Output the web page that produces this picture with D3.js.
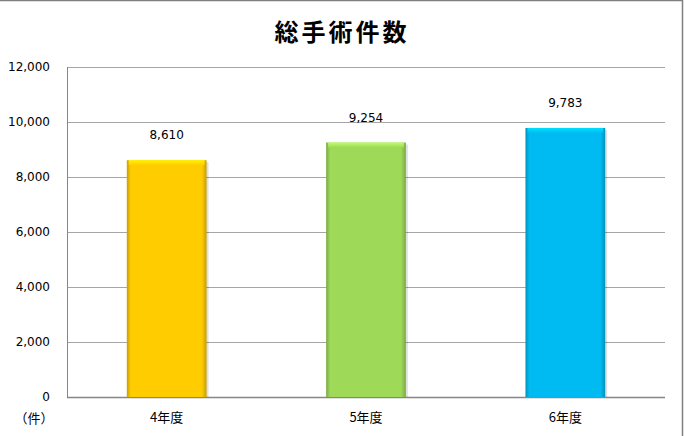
<!DOCTYPE html>
<html><head><meta charset="utf-8">
<script src="https://cdn.jsdelivr.net/npm/d3@7"></script>
<style>html,body{margin:0;padding:0;background:#fff;}svg{display:block;}</style>
</head><body>
<svg id="c" width="684" height="436"></svg>
<script>
const title = "総手術件数";
const categories = ["4年度", "5年度", "6年度"];
const values = [8610, 9254, 9783];
const colors = ["#FFCC00", "#9ED958", "#00BBF2"];
const yTicks = [0, 2000, 4000, 6000, 8000, 10000, 12000];
const unitLabel = "（件）";

const svg = d3.select("#c");
const m = {left: 67, right: 665, top: 67, bottom: 397};

// frame
svg.append("line").attr("x1",0).attr("x2",683).attr("y1",0.5).attr("y2",0.5).attr("stroke","#7f7f7f").attr("stroke-width",1.5);
svg.append("line").attr("x1",682.5).attr("x2",682.5).attr("y1",0).attr("y2",436).attr("stroke","#7f7f7f").attr("stroke-width",1.5);

const x = d3.scaleBand().domain(categories).range([m.left, m.right]).paddingInner(0.6).paddingOuter(0.3);
const y = d3.scaleLinear().domain([0, 12000]).range([m.bottom, m.top]);

svg.append("text").attr("x", 342).attr("y", 41).attr("text-anchor","middle")
  .attr("font-family","'Noto Sans CJK JP'").attr("font-weight","bold").attr("font-size",24)
  .attr("letter-spacing", 3).attr("fill","#000").text(title);

// gridlines
const yAxis = d3.axisLeft(y).tickValues(yTicks).tickSize(-(m.right - m.left)).tickPadding(17)
  .tickFormat(d3.format(","));
const gy = svg.append("g").attr("transform", `translate(${m.left},0)`).call(yAxis);
gy.select(".domain").remove();
gy.selectAll(".tick line").attr("stroke","#a6a6a6").attr("stroke-width",1);
gy.selectAll(".tick text").attr("font-family","'DejaVu Sans', Verdana, sans-serif").attr("font-size",12).attr("fill","#000");

// axes lines
svg.append("line").attr("x1",m.left+0.5).attr("x2",m.left+0.5).attr("y1",m.top).attr("y2",m.bottom).attr("stroke","#868686");
svg.append("line").attr("x1",m.left).attr("x2",m.right).attr("y1",m.bottom+0.5).attr("y2",m.bottom+0.5).attr("stroke","#868686").attr("stroke-width",1.5);

// gradients
const defs = svg.append("defs");
colors.forEach((c, i) => {
  const dk = d3.color(c).darker(0.7), lt = d3.color(c).brighter(0.5);
  const g = defs.append("linearGradient").attr("id","h"+i).attr("x1","0").attr("x2","1").attr("y1","0").attr("y2","0");
  g.append("stop").attr("offset","0").attr("stop-color", dk);
  g.append("stop").attr("offset","0.05").attr("stop-color", c);
  g.append("stop").attr("offset","0.94").attr("stop-color", c);
  g.append("stop").attr("offset","1").attr("stop-color", dk);
  const v = defs.append("linearGradient").attr("id","v"+i).attr("x1","0").attr("x2","0").attr("y1","0").attr("y2","1");
  v.append("stop").attr("offset","0").attr("stop-color", lt);
  v.append("stop").attr("offset","1").attr("stop-color", c);
});

const bars = svg.append("g").selectAll("g").data(values).join("g");
bars.append("rect").attr("x",(d,i)=>x(categories[i])+2).attr("y",d=>y(d)+2)
  .attr("width", x.bandwidth()).attr("height", d=>m.bottom - y(d)-2).attr("fill","rgba(0,0,0,0.12)");
bars.append("rect").attr("x",(d,i)=>x(categories[i])).attr("y",d=>y(d))
  .attr("width", x.bandwidth()).attr("height", d=>m.bottom - y(d)).attr("fill",(d,i)=>`url(#h${i})`);
bars.append("rect").attr("x",(d,i)=>x(categories[i])+2).attr("y",d=>y(d))
  .attr("width", x.bandwidth()-4).attr("height", 5).attr("fill",(d,i)=>`url(#v${i})`);
bars.append("text").attr("x",(d,i)=>x(categories[i])+x.bandwidth()/2).attr("y",d=>y(d)-21)
  .attr("text-anchor","middle").attr("font-family","'DejaVu Sans', Verdana, sans-serif").attr("font-size",12)
  .text(d=>d3.format(",")(d));

// x labels
const xAxis = d3.axisBottom(x).tickSize(0).tickPadding(16);
const gx = svg.append("g").attr("transform",`translate(0,${m.bottom})`).call(xAxis);
gx.select(".domain").remove();
gx.selectAll(".tick text").attr("font-family","'Noto Sans CJK JP'").attr("font-size",13).attr("fill","#000");

svg.append("text").attr("x",34).attr("y",423).attr("text-anchor","middle")
  .attr("font-family","'Noto Sans CJK JP'").attr("font-size",13).text(unitLabel);
</script>
</body></html>
